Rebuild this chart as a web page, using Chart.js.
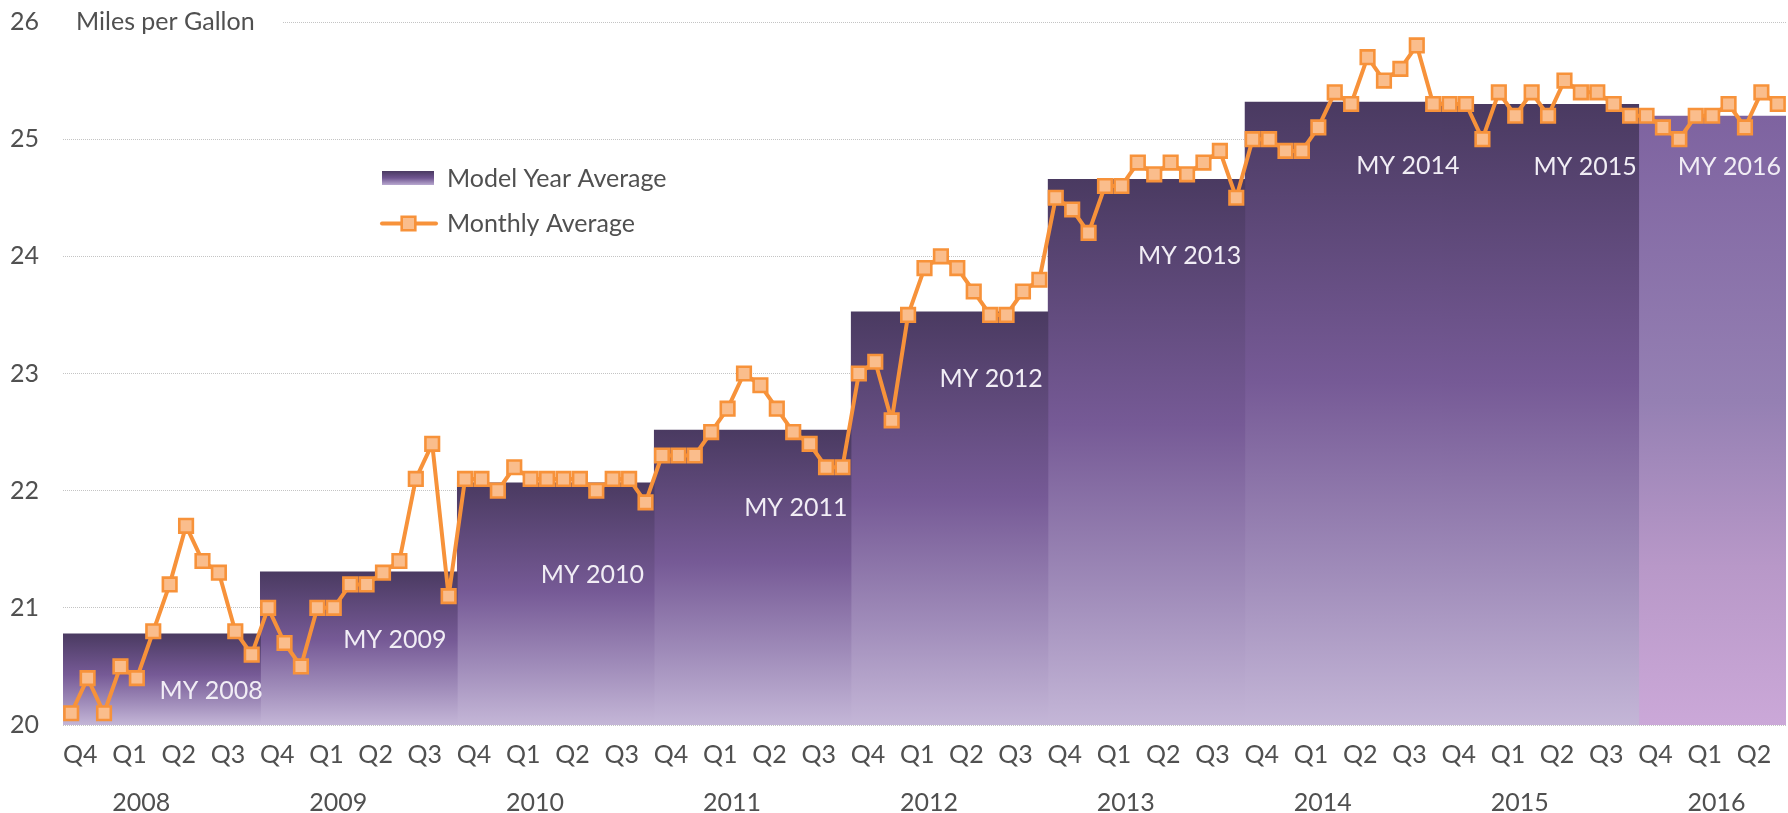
<!DOCTYPE html>
<html>
<head>
<meta charset="utf-8">
<script src="https://cdn.jsdelivr.net/npm/chart.js@4.4.1/dist/chart.umd.min.js"></script>
<style>
  html, body { margin: 0; padding: 0; background: #ffffff; }
  #wrap { width: 1788px; height: 813px; position: relative; }
</style>
</head>
<body>
<div id="wrap"><canvas id="c"></canvas></div>
<script>
// ---------------- DATA ----------------
const monthLabels = [
  '2007-10','2007-11','2007-12',
  '2008-01','2008-02','2008-03','2008-04','2008-05','2008-06','2008-07','2008-08','2008-09','2008-10','2008-11','2008-12',
  '2009-01','2009-02','2009-03','2009-04','2009-05','2009-06','2009-07','2009-08','2009-09','2009-10','2009-11','2009-12',
  '2010-01','2010-02','2010-03','2010-04','2010-05','2010-06','2010-07','2010-08','2010-09','2010-10','2010-11','2010-12',
  '2011-01','2011-02','2011-03','2011-04','2011-05','2011-06','2011-07','2011-08','2011-09','2011-10','2011-11','2011-12',
  '2012-01','2012-02','2012-03','2012-04','2012-05','2012-06','2012-07','2012-08','2012-09','2012-10','2012-11','2012-12',
  '2013-01','2013-02','2013-03','2013-04','2013-05','2013-06','2013-07','2013-08','2013-09','2013-10','2013-11','2013-12',
  '2014-01','2014-02','2014-03','2014-04','2014-05','2014-06','2014-07','2014-08','2014-09','2014-10','2014-11','2014-12',
  '2015-01','2015-02','2015-03','2015-04','2015-05','2015-06','2015-07','2015-08','2015-09','2015-10','2015-11','2015-12',
  '2016-01','2016-02','2016-03','2016-04','2016-05','2016-06'
];

const monthlyAverage = [
  20.1, 20.4, 20.1, 20.5, 20.4, 20.8, 21.2, 21.7, 21.4, 21.3, 20.8, 20.6,
  21.0, 20.7, 20.5, 21.0, 21.0, 21.2, 21.2, 21.3, 21.4, 22.1, 22.4, 21.1,
  22.1, 22.1, 22.0, 22.2, 22.1, 22.1, 22.1, 22.1, 22.0, 22.1, 22.1, 21.9,
  22.3, 22.3, 22.3, 22.5, 22.7, 23.0, 22.9, 22.7, 22.5, 22.4, 22.2, 22.2,
  23.0, 23.1, 22.6, 23.5, 23.9, 24.0, 23.9, 23.7, 23.5, 23.5, 23.7, 23.8,
  24.5, 24.4, 24.2, 24.6, 24.6, 24.8, 24.7, 24.8, 24.7, 24.8, 24.9, 24.5,
  25.0, 25.0, 24.9, 24.9, 25.1, 25.4, 25.3, 25.7, 25.5, 25.6, 25.8, 25.3,
  25.3, 25.3, 25.0, 25.4, 25.2, 25.4, 25.2, 25.5, 25.4, 25.4, 25.3, 25.2,
  25.2, 25.1, 25.0, 25.2, 25.2, 25.3, 25.1, 25.4, 25.3
];

const modelYears = ['MY 2008','MY 2009','MY 2010','MY 2011','MY 2012','MY 2013','MY 2014','MY 2015','MY 2016'];
const modelYearAverage = [20.78, 21.31, 22.07, 22.52, 23.53, 24.66, 25.32, 25.30, 25.20];
const modelYearMonths = [12, 12, 12, 12, 12, 12, 12, 12, 9];

const quarterLabels = [
  'Q4','Q1','Q2','Q3', 'Q4','Q1','Q2','Q3', 'Q4','Q1','Q2','Q3', 'Q4','Q1','Q2','Q3',
  'Q4','Q1','Q2','Q3', 'Q4','Q1','Q2','Q3', 'Q4','Q1','Q2','Q3', 'Q4','Q1','Q2','Q3',
  'Q4','Q1','Q2'
];
const yearLabels = ['2008','2009','2010','2011','2012','2013','2014','2015','2016'];

const seriesNames = ['Model Year Average', 'Monthly Average'];
const axisTitle = 'Miles per Gallon';

// ---------------- LAYOUT / STYLE (not data) ----------------
// MY label anchors: right edge (in months) and vertical centre (in mpg)
const myLabelRightMonth = [12.17, 23.37, 35.4, 47.8, 59.7, 71.8, 85.1, 95.9, 104.7];
const myLabelValue      = [20.29, 20.73, 21.28, 21.85, 22.95, 24.0, 24.77, 24.76, 24.76];
const SEAM_OVERLAP = 0.06; // tiny overlap (months) to hide anti-aliasing seams between adjacent blocks

const FONT = 'Lato, "Open Sans", sans-serif';
const TEXT = '#505050';
const ORANGE = '#f7923a';
const ORANGE_LIGHT = '#fabd8c';

function barGradient(chart, value, light) {
  const { ctx, chartArea, scales } = chart;
  if (!chartArea) return light ? '#a48cbe' : '#6a5088';
  const top = scales.y.getPixelForValue(value);
  const g = ctx.createLinearGradient(0, top, 0, chartArea.bottom);
  if (light) {
    g.addColorStop(0, '#7e63a0');
    g.addColorStop(0.47, '#9580b3');
    g.addColorStop(0.74, '#b898c8');
    g.addColorStop(1, '#cba8d8');
  } else {
    g.addColorStop(0, '#4a3a61');
    g.addColorStop(0.45, '#765a96');
    g.addColorStop(0.75, '#9f8bb9');
    g.addColorStop(1, '#c4b6d7');
  }
  return g;
}

// ---------------- DATASETS ----------------
const barStarts = [];
let acc = 0;
modelYearMonths.forEach(n => { barStarts.push(acc); acc += n; });

const modelYearDatasets = modelYears.map((name, i) => {
  const last = i === modelYears.length - 1;
  return {
    type: 'line',
    label: name,
    data: [
      { x: barStarts[i], y: modelYearAverage[i] },
      { x: barStarts[i] + modelYearMonths[i] + (last ? 0 : SEAM_OVERLAP), y: modelYearAverage[i] }
    ],
    fill: 'start',
    borderColor: 'rgba(0,0,0,0)',
    borderWidth: 0,
    pointRadius: 0,
    pointHoverRadius: 0,
    order: 1,
    backgroundColor: (c) => barGradient(c.chart, modelYearAverage[i], last)
  };
});

const monthlyDataset = {
  type: 'line',
  label: seriesNames[1],
  data: monthlyAverage.map((v, i) => ({ x: i + 0.5, y: v })),
  borderColor: ORANGE,
  borderWidth: 4,
  borderJoinStyle: 'round',
  borderCapStyle: 'round',
  tension: 0,
  fill: false,
  pointStyle: 'rect',
  pointRadius: 9.6,
  pointHoverRadius: 9.6,
  pointBackgroundColor: ORANGE_LIGHT,
  pointBorderColor: ORANGE,
  pointBorderWidth: 2.6,
  order: 0,
  clip: 12
};

const quarterTickMonths = quarterLabels.map((_, i) => i * 3);
const yearTickMonths = yearLabels.map((_, i) => 3 + i * 12);

// ---------------- PLUGINS ----------------
const decorPlugin = {
  id: 'decor',
  beforeDatasetsDraw(chart) {
    const { ctx, chartArea, scales } = chart;
    const y26 = scales.y.getPixelForValue(26);
    ctx.save();
    ctx.fillStyle = '#ffffff';
    ctx.fillRect(chartArea.left, y26 - 14, 220, 28);
    ctx.font = '25px ' + FONT;
    ctx.fillStyle = TEXT;
    ctx.textAlign = 'left';
    ctx.textBaseline = 'middle';
    ctx.fillText(axisTitle, chartArea.left + 13, y26);
    ctx.restore();
  },
  afterDatasetsDraw(chart) {
    const { ctx, scales } = chart;
    ctx.save();
    ctx.font = '25px ' + FONT;
    ctx.fillStyle = '#f1edf5';
    ctx.textAlign = 'right';
    ctx.textBaseline = 'middle';
    modelYears.forEach((name, i) => {
      const x = scales.x.getPixelForValue(myLabelRightMonth[i]);
      const y = scales.y.getPixelForValue(myLabelValue[i]);
      ctx.fillText(name, x, y);
    });
    ctx.restore();
  },
  afterDraw(chart) {
    const { ctx } = chart;
    ctx.save();
    // Model year swatch
    const g = ctx.createLinearGradient(0, 171, 0, 185);
    g.addColorStop(0, '#4a3a61');
    g.addColorStop(0.5, '#6f5590');
    g.addColorStop(1, '#b9a9d0');
    ctx.fillStyle = g;
    ctx.fillRect(382, 171, 52, 14);
    // Monthly swatch
    ctx.strokeStyle = ORANGE;
    ctx.lineWidth = 4;
    ctx.lineCap = 'round';
    ctx.beginPath();
    ctx.moveTo(382, 223.5);
    ctx.lineTo(436, 223.5);
    ctx.stroke();
    ctx.fillStyle = ORANGE_LIGHT;
    ctx.lineWidth = 2.6;
    ctx.beginPath();
    ctx.rect(408.5 - 6.8, 223.5 - 6.8, 13.6, 13.6);
    ctx.fill();
    ctx.stroke();
    // texts
    ctx.font = '25px ' + FONT;
    ctx.fillStyle = TEXT;
    ctx.textAlign = 'left';
    ctx.textBaseline = 'middle';
    ctx.fillText(seriesNames[0], 447, 179);
    ctx.fillText(seriesNames[1], 447, 223.5);
    ctx.restore();
  }
};

// ---------------- CHART ----------------
new Chart(document.getElementById('c'), {
  type: 'line',
  data: { datasets: [monthlyDataset, ...modelYearDatasets] },
  options: {
    responsive: true,
    maintainAspectRatio: false,
    animation: false,
    layout: { autoPadding: false, padding: { top: 22, right: 2, left: 0, bottom: 0 } },
    plugins: { legend: { display: false }, tooltip: { enabled: false } },
    scales: {
      x: {
        type: 'linear', min: 0, max: 105, position: 'bottom', weight: 0,
        grid: { display: false, drawTicks: false },
        border: { display: false },
        afterBuildTicks: (s) => { s.ticks = quarterTickMonths.map(v => ({ value: v })); },
        afterFit: (s) => { s.height = 50; },
        ticks: {
          autoSkip: false, maxRotation: 0, minRotation: 0, align: 'start', padding: 15,
          color: TEXT, font: { family: FONT, size: 25 },
          callback: (v, i) => quarterLabels[i]
        }
      },
      xYear: {
        type: 'linear', min: 0, max: 105, position: 'bottom', weight: 1,
        grid: { display: false, drawTicks: false },
        border: { display: false },
        afterBuildTicks: (s) => { s.ticks = yearTickMonths.map(v => ({ value: v })); },
        afterFit: (s) => { s.height = 38; },
        ticks: {
          autoSkip: false, maxRotation: 0, minRotation: 0, align: 'start', padding: 13,
          color: TEXT, font: { family: FONT, size: 25 },
          callback: (v, i) => yearLabels[i]
        }
      },
      y: {
        min: 20, max: 26,
        afterFit: (s) => { s.width = 63; s.paddingTop = 0; s.paddingBottom = 0; },
        grid: { color: '#c4c4c4', lineWidth: 1, drawTicks: false },
        border: { display: false, dash: [1, 1] },
        ticks: { stepSize: 1, padding: 24, color: TEXT, font: { family: FONT, size: 25 } }
      }
    }
  },
  plugins: [decorPlugin]
});
</script>
</body>
</html>
